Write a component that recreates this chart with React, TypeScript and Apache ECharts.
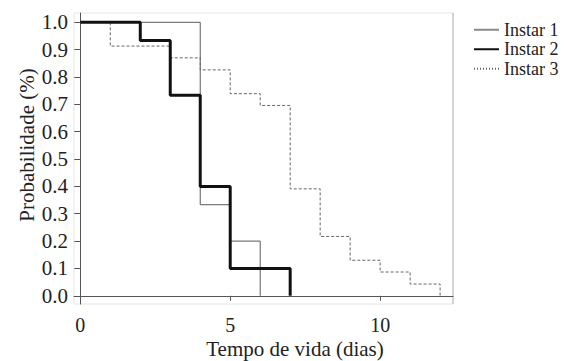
import React, { useEffect, useRef } from "react";
import * as echarts from "echarts";

const seriesNames = ["Instar 1", "Instar 2", "Instar 3"];
const times1 = [0, 4, 5, 6];
const surv1 = [1.0, 0.333, 0.2, 0.0];
const times2 = [0, 2, 3, 4, 5, 7];
const surv2 = [1.0, 0.933, 0.733, 0.4, 0.1, 0.0];
const times3 = [0, 1, 3, 4, 5, 6, 7, 8, 9, 10, 11, 12];
const surv3 = [1.0, 0.913, 0.87, 0.826, 0.739, 0.696, 0.391, 0.217, 0.13, 0.087, 0.043, 0.0];
const yTicks = [0, 0.1, 0.2, 0.3, 0.4, 0.5, 0.6, 0.7, 0.8, 0.9, 1.0];
const xTicks = [0, 5, 10];
const xTitle = "Tempo de vida (dias)";
const yTitle = "Probabilidade (%)";

const FONT = "'Liberation Serif', 'DejaVu Serif', serif";

function pairs(t: number[], s: number[]) {
  return t.map((x, i) => [x, s[i]]);
}

const hiddenSymbol = { color: "rgba(0,0,0,0)", borderWidth: 0, opacity: 0 };

export default function App() {
  const ref = useRef<HTMLDivElement>(null);
  useEffect(() => {
    if (!ref.current) return;
    const chart = echarts.init(ref.current, null, { renderer: "svg" });
    chart.setOption({
      animation: false,
      backgroundColor: "#fff",
      grid: {
        left: 74,
        right: 111,
        top: 13,
        bottom: 57,
        show: true,
        borderColor: "#e6e6e6",
        borderWidth: 1,
      },
      legend: {
        orient: "vertical",
        left: 468,
        top: 15,
        padding: 5,
        itemWidth: 25,
        itemHeight: 14,
        itemGap: 0,
        itemStyle: hiddenSymbol,
        textStyle: { fontFamily: FONT, fontSize: 18, color: "#222", lineHeight: 19.5 },
        data: [
          { name: seriesNames[0], itemStyle: hiddenSymbol, lineStyle: { color: "#8a8a8a" } },
          { name: seriesNames[1], itemStyle: hiddenSymbol },
          { name: seriesNames[2], itemStyle: hiddenSymbol, lineStyle: { type: [1, 2] } },
        ],
      },
      xAxis: {
        type: "value",
        min: -0.21,
        max: 12.43,
        splitLine: { show: false },
        axisLine: { show: true, lineStyle: { color: "#555", width: 1 } },
        axisTick: { show: true, length: 5, lineStyle: { color: "#555" }, customValues: xTicks },
        axisLabel: {
          customValues: xTicks,
          fontFamily: FONT,
          fontSize: 20,
          color: "#222",
          margin: 11,
        },
      },
      yAxis: {
        type: "value",
        min: -0.03,
        max: 1.034,
        splitLine: { show: false },
        axisLine: { show: true, lineStyle: { color: "#555", width: 1 } },
        axisTick: { show: true, length: 6, lineStyle: { color: "#555" }, customValues: yTicks },
        axisLabel: {
          customValues: yTicks,
          fontFamily: FONT,
          fontSize: 21,
          color: "#222",
          margin: 6,
          formatter: (v: number) => v.toFixed(1),
        },
      },
      graphic: [
        {
          type: "line",
          shape: { x1: 453, y1: 13, x2: 453, y2: 304 },
          style: { stroke: "#b5b5b5", lineWidth: 1 },
        },
        {
          type: "text",
          x: 295,
          y: 349,
          style: {
            text: xTitle,
            fontFamily: FONT,
            fontSize: 21,
            lineHeight: 21,
            fill: "#222",
            align: "center",
            verticalAlign: "middle",
          },
        },
        {
          type: "text",
          x: 27,
          y: 145,
          rotation: Math.PI / 2,
          style: {
            text: yTitle,
            fontFamily: FONT,
            fontSize: 21,
            fill: "#222",
            align: "center",
            verticalAlign: "middle",
          },
        },
      ],
      series: [
        {
          name: seriesNames[0],
          type: "line",
          step: "end",
          symbol: "none",
          data: pairs(times1, surv1),
          lineStyle: { color: "#5a5a5a", width: 1 },
          itemStyle: { color: "#5a5a5a" },
          z: 2,
        },
        {
          name: seriesNames[2],
          type: "line",
          step: "end",
          symbol: "none",
          data: pairs(times3, surv3),
          lineStyle: { color: "#666", width: 1, type: [3, 2] },
          itemStyle: { color: "#666" },
          z: 2,
        },
        {
          name: seriesNames[1],
          type: "line",
          step: "end",
          symbol: "none",
          data: pairs(times2, surv2),
          lineStyle: { color: "#111", width: 3 },
          itemStyle: { color: "#111" },
          z: 3,
        },
      ],
    });
    return () => chart.dispose();
  }, []);
  return (
    <div
      ref={ref}
      style={{ position: "fixed", left: 0, top: 0, width: 564, height: 361, background: "#fff" }}
    />
  );
}
